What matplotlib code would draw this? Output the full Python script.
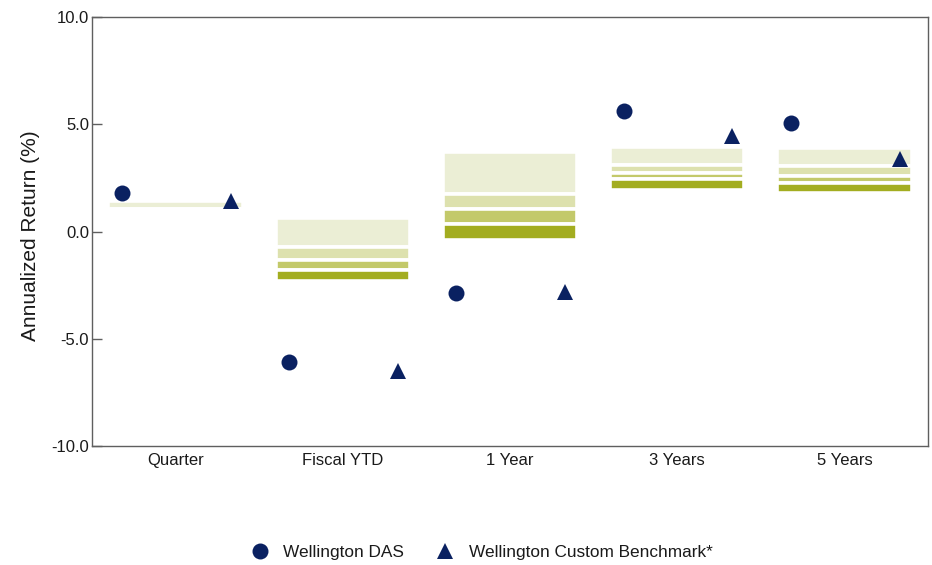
import matplotlib.pyplot as plt
import numpy as np
from matplotlib.lines import Line2D

plt.rcParams["font.family"] = ["Liberation Sans", "DejaVu Sans"]

periods = ["Quarter", "Fiscal YTD", "1 Year", "3 Years", "5 Years"]

# universe percentile breakpoints (5th, 25th, median, 75th, 95th)
p5 = [1.40, 0.63, 3.69, 3.94, 3.89]
p25 = [1.05, -0.74, 1.75, 3.09, 3.05]
p50 = [1.05, -1.33, 1.05, 2.74, 2.61]
p75 = [1.05, -1.81, 0.34, 2.44, 2.28]
p95 = [1.05, -2.29, -0.38, 1.95, 1.79]

das = [1.79, -6.08, -2.88, 5.60, 5.04]
benchmark = [1.41, -6.50, -2.83, 4.45, 3.37]

band_colors = ["#ebeed5", "#dde1ae", "#c3c96a", "#a3ad20"]
navy = "#0a2161"
spine_gray = "#5f5f5f"

fig = plt.figure(figsize=(9.32, 5.65), dpi=100)
ax = fig.add_axes([92 / 932, 1 - 446 / 565, 836 / 932, 429 / 565])

x = np.arange(len(periods))
edges = [p5, p25, p50, p75, p95]
for i, color in enumerate(band_colors):
    top = np.array(edges[i])
    bottom = np.array(edges[i + 1])
    ax.bar(x, top - bottom, bottom=bottom, width=0.805, color=color,
           edgecolor="white", linewidth=2.6, zorder=2)

ax.plot(x - 0.32, das, linestyle="none", marker="o", markersize=11.5,
        color=navy, markeredgewidth=0, zorder=3)
ax.plot(x + 0.33, benchmark, linestyle="none", marker="^", markersize=11.5,
        color=navy, markeredgewidth=0, zorder=3)

ax.set_xlim(-0.5, len(periods) - 0.5)
ax.set_ylim(-10, 10)
ax.set_yticks([-10, -5, 0, 5, 10])
ax.set_yticklabels([f"{v:.1f}" for v in [-10, -5, 0, 5, 10]])
ax.set_xticks(x)
ax.set_xticklabels(periods)

for side in ["left", "right", "top", "bottom"]:
    ax.spines[side].set_color(spine_gray)
    ax.spines[side].set_linewidth(1.0)

ax.tick_params(axis="y", direction="in", length=7, width=1.0, color=spine_gray,
               pad=2, labelsize=12, labelcolor="#1a1a1a")
ax.tick_params(axis="x", length=0, pad=5, labelsize=12, labelcolor="#1a1a1a")

ax.set_ylabel("Annualized Return (%)", fontsize=15, color="#1a1a1a")
ax.yaxis.set_label_coords(-0.062, 0.49)

handles = [
    Line2D([], [], linestyle="none", marker="o", markersize=11.5, color=navy,
           markeredgewidth=0, label="Wellington DAS"),
    Line2D([], [], linestyle="none", marker="^", markersize=11.5, color=navy,
           markeredgewidth=0, label="Wellington Custom Benchmark*"),
]
fig.legend(handles=handles, loc="center", bbox_to_anchor=(481 / 932, 1 - 552 / 565),
           ncol=2, frameon=False, fontsize=12.4, handletextpad=0.75,
           columnspacing=1.8, handlelength=1.2, labelcolor="#1a1a1a")

fig.savefig("out.png", dpi=100, facecolor="white")
